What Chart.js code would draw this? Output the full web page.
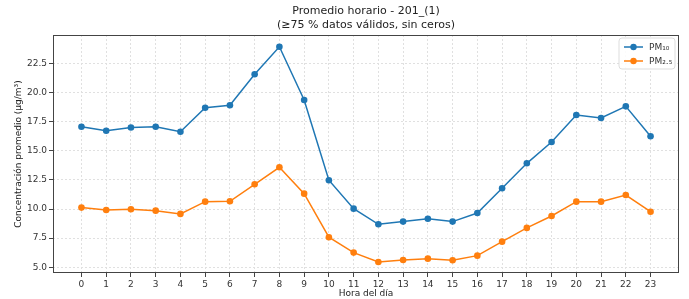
<!DOCTYPE html>
<html>
<head>
<meta charset="utf-8">
<script src="https://cdn.jsdelivr.net/npm/chart.js@4"></script>
<style>
  html, body { margin: 0; padding: 0; background: #fff; }
  #wrap { width: 689px; height: 299px; }
</style>
</head>
<body>
<div id="wrap"><canvas id="Chart" width="689" height="299"></canvas></div>
<script>
// hourly averages
const hours = [0,1,2,3,4,5,6,7,8,9,10,11,12,13,14,15,16,17,18,19,20,21,22,23];
const pm10 = [17.06,16.72,16.99,17.06,16.63,18.69,18.9,21.56,23.92,19.35,12.47,10.03,8.69,8.92,9.17,8.92,9.66,11.78,13.92,15.75,18.07,17.81,18.81,16.24];
const pm25 = [10.12,9.92,9.98,9.86,9.58,10.63,10.66,12.12,13.58,11.32,7.58,6.26,5.46,5.63,5.74,5.6,6.0,7.2,8.38,9.4,10.63,10.63,11.2,9.77];
const yTicks = [5, 7.5, 10, 12.5, 15, 17.5, 20, 22.5];
const titleLines = ['Promedio horario - 201_(1)', '(≥75 % datos válidos, sin ceros)'];
const seriesNames = ['PM₁₀', 'PM₂.₅'];

const FONT = "'DejaVu Sans', sans-serif";
const blue = '#1f77b4';
const orange = '#ff7f0e';

function points(values)
{
    return hours.map((h, i) => ({ x: h, y: values[i] }));
}

// title, frame and legend drawn by hand, like matplotlib does
const extras = {
    id: 'extras',
    afterDraw(chart) {
        const ctx = chart.ctx;
        const a = chart.chartArea;
        ctx.save();

        ctx.fillStyle = '#222';
        ctx.font = '11px ' + FONT;
        ctx.textAlign = 'center';
        ctx.textBaseline = 'middle';
        const cx = (a.left + a.right) / 2;
        ctx.fillText(titleLines[0], cx, 11);
        ctx.fillText(titleLines[1], cx, 25);

        ctx.strokeStyle = '#444';
        ctx.lineWidth = 1;
        ctx.strokeRect(a.left + 0.5, a.top + 0.5, a.right - a.left - 1, a.bottom - a.top - 1);

        // legend box
        const lx = 619, ly = 38, lw = 56, lh = 31;
        ctx.fillStyle = 'rgba(255,255,255,0.85)';
        ctx.strokeStyle = '#ddd';
        ctx.beginPath();
        ctx.roundRect(lx, ly, lw, lh, 3);
        ctx.fill();
        ctx.stroke();

        const colors = [blue, orange];
        ctx.textAlign = 'left';
        ctx.font = '9px ' + FONT;
        for (let i = 0; i < 2; i++) {
            const y = ly + 9 + i * 14;
            ctx.strokeStyle = colors[i];
            ctx.lineWidth = 1.5;
            ctx.beginPath();
            ctx.moveTo(lx + 5, y);
            ctx.lineTo(lx + 24, y);
            ctx.stroke();
            ctx.fillStyle = colors[i];
            ctx.beginPath();
            ctx.arc(lx + 14.5, y, 3.2, 0, Math.PI * 2);
            ctx.fill();
            ctx.fillStyle = '#333';
            ctx.fillText(seriesNames[i], lx + 30, y + 1);
        }
        ctx.restore();
    }
};

const ctx = document.getElementById('Chart');

new Chart(ctx, {
    type: 'line',
    data: {
        datasets: [
            {
                label: seriesNames[0],
                data: points(pm10),
                borderColor: blue,
                backgroundColor: blue,
                borderWidth: 1.5,
                pointRadius: 3.3,
                pointBorderWidth: 0,
                tension: 0
            },
            {
                label: seriesNames[1],
                data: points(pm25),
                borderColor: orange,
                backgroundColor: orange,
                borderWidth: 1.5,
                pointRadius: 3.3,
                pointBorderWidth: 0,
                tension: 0
            }
        ]
    },
    options: {
        responsive: false,
        animation: false,
        devicePixelRatio: 1,
        layout: { padding: { top: 35, right: 10, left: 0, bottom: 0 } },
        plugins: {
            legend: { display: false },
            title: { display: false },
            tooltip: { enabled: false }
        },
        scales: {
            x: {
                type: 'linear',
                min: -1.15,
                max: 24.15,
                afterBuildTicks: (scale) => { scale.ticks = hours.map(h => ({ value: h })); },
                afterFit: (scale) => { scale.height = 26; },
                ticks: {
                    autoSkip: false,
                    maxRotation: 0,
                    padding: 2,
                    color: '#333',
                    font: { family: FONT, size: 9 },
                    callback: (v) => String(v)
                },
                grid: {
                    color: '#e0e0e0',
                    tickColor: '#444',
                    tickLength: 4,
                    tickBorderDash: []
                },
                border: { display: false, dash: [2, 2] },
                title: {
                    display: true,
                    text: 'Hora del día',
                    color: '#222',
                    font: { family: FONT, size: 9 },
                    padding: { top: 1, bottom: 0 }
                }
            },
            y: {
                min: 4.51,
                max: 24.93,
                afterBuildTicks: (scale) => { scale.ticks = yTicks.map(v => ({ value: v })); },
                afterFit: (scale) => { scale.width = 53; },
                ticks: {
                    padding: 2,
                    color: '#333',
                    font: { family: FONT, size: 9 },
                    callback: (v) => v.toFixed(1)
                },
                grid: {
                    color: '#e0e0e0',
                    tickColor: '#444',
                    tickLength: 4,
                    tickBorderDash: []
                },
                border: { display: false, dash: [2, 2] },
                title: {
                    display: true,
                    text: 'Concentración promedio (µg/m³)',
                    color: '#222',
                    font: { family: FONT, size: 9 },
                    padding: { top: 13, bottom: 0 }
                }
            }
        }
    },
    plugins: [extras]
});
</script>
</body>
</html>
